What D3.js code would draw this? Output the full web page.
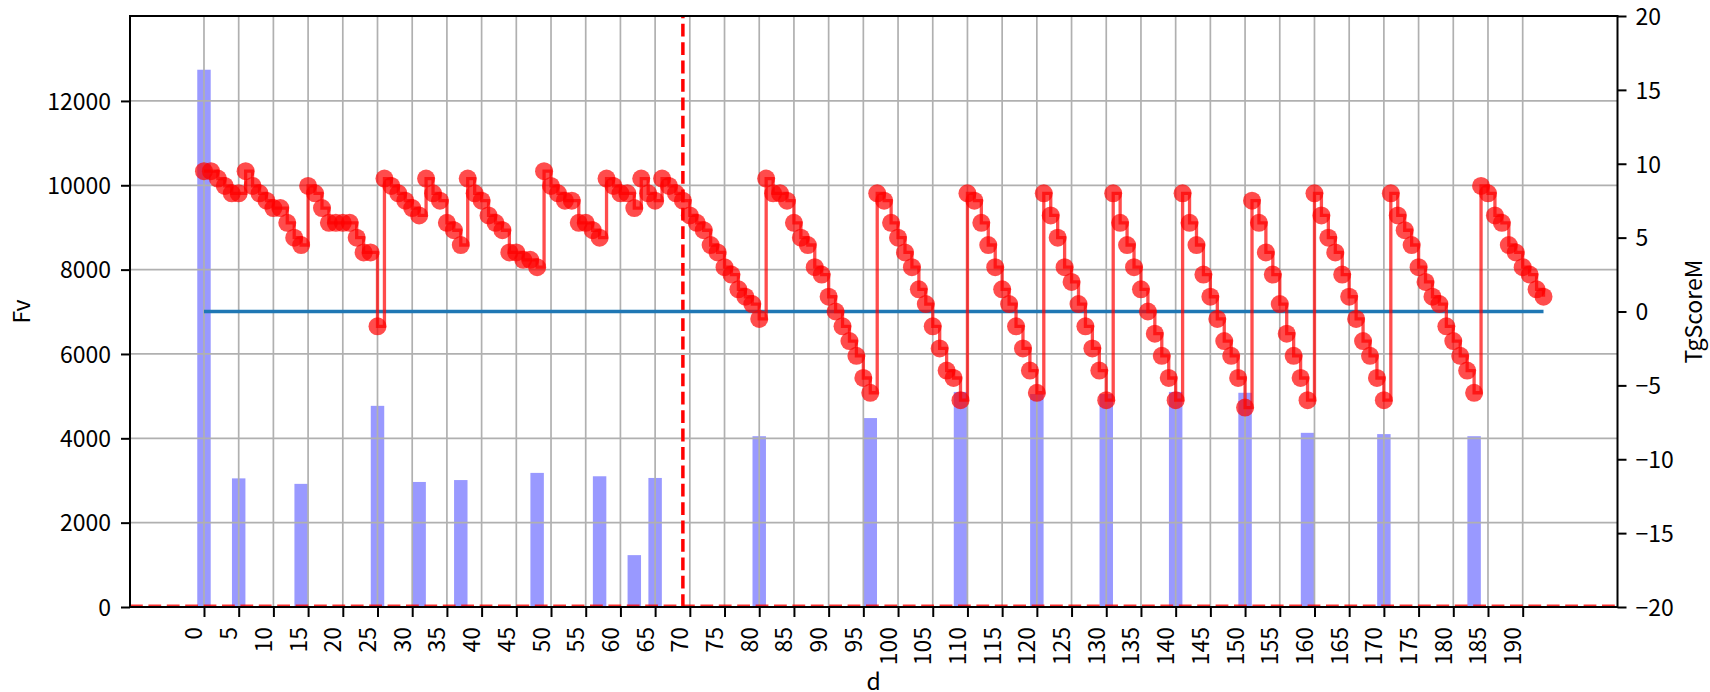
<!DOCTYPE html>
<html><head><meta charset="utf-8">
<script src="https://cdn.jsdelivr.net/npm/d3@7"></script>
<style>
body{margin:0;background:#fff}
svg{display:block}
text{font-family:"Noto Sans CJK JP","Noto Sans",sans-serif;fill:#000}
</style>
</head><body><svg id="c" width="1710" height="692"></svg>
<script>
// TgScoreM per day d (index = d)
const tgScoreM = [
 9.5,9.5,9,8.5,8,8,9.5,8.5,8,7.5,
 7,7,6,5,4.5,8.5,8,7,6,6,
 6,6,5,4,4,-1,9,8.5,8,7.5,
 7,6.5,9,8,7.5,6,5.5,4.5,9,8,
 7.5,6.5,6,5.5,4,4,3.5,3.5,3,9.5,
 8.5,8,7.5,7.5,6,6,5.5,5,9,8.5,
 8,8,7,9,8,7.5,9,8.5,8,7.5,
 6.5,6,5.5,4.5,4,3,2.5,1.5,1,0.5,
 -0.5,9,8,8,7.5,6,5,4.5,3,2.5,
 1,0,-1,-2,-3,-4.5,-5.5,8,7.5,6,
 5,4,3,1.5,0.5,-1,-2.5,-4,-4.5,-6,
 8,7.5,6,4.5,3,1.5,0.5,-1,-2.5,-4,
 -5.5,8,6.5,5,3,2,0.5,-1,-2.5,-4,
 -6,8,6,4.5,3,1.5,0,-1.5,-3,-4.5,
 -6,8,6,4.5,2.5,1,-0.5,-2,-3,-4.5,
 -6.5,7.5,6,4,2.5,0.5,-1.5,-3,-4.5,-6,
 8,6.5,5,4,2.5,1,-0.5,-2,-3,-4.5,
 -6,8,6.5,5.5,4.5,3,2,1,0.5,-1,
 -2,-3,-4,-5.5,8.5,8,6.5,6,4.5,4,
 3,2.5,1.5,1
];
// Fv bars
const barDays  = [0,5,14,25,31,37,48,57,62,65,80,96,109,120,130,140,150,159,170,183];
const fvValues = [12740,3050,2920,4770,2965,3010,3180,3100,1230,3060,4050,4480,5100,5050,5050,5100,5080,4130,4100,4050];
const thresholdDay = 69;
const baselineScore = 0;
const xTickValues = [0,5,10,15,20,25,30,35,40,45,50,55,60,65,70,75,80,85,90,95,100,105,110,115,120,125,130,135,140,145,150,155,160,165,170,175,180,185,190];
const leftTickValues = [0,2000,4000,6000,8000,10000,12000];
const rightTickValues = [-20,-15,-10,-5,0,5,10,15,20];

const L = 130, R = 1617.5, T = 16, B = 607;
const svg = d3.select("#c");
const days = tgScoreM.map((v,i)=>i);

const x = d3.scaleLinear().domain([-10.66, 203.66]).range([L, R]);
const yL = d3.scaleLinear().domain([0, 1.1*d3.max(fvValues)]).range([B, T]);
const yR = d3.scaleLinear().domain([-20, 20]).range([B, T]);

const FS = 23;
// bars
svg.append("g").selectAll("rect").data(barDays).join("rect")
  .attr("x", (d)=>x(d-0.97)).attr("width", x(1.94)-x(0))
  .attr("y", (d,i)=>yL(fvValues[i])).attr("height",(d,i)=>B-yL(fvValues[i]))
  .attr("fill","#0000ff").attr("fill-opacity",0.4);

// grid
const grid = svg.append("g").attr("stroke","#b0b0b0").attr("stroke-width",1.7);
grid.selectAll("line.v").data(xTickValues).join("line").attr("class","v")
  .attr("x1",d=>x(d)).attr("x2",d=>x(d)).attr("y1",T).attr("y2",B);
grid.selectAll("line.h").data(leftTickValues).join("line").attr("class","h")
  .attr("x1",L).attr("x2",R).attr("y1",d=>yL(d)).attr("y2",d=>yL(d));

// vertical threshold
svg.append("line").attr("x1",x(thresholdDay)).attr("x2",x(thresholdDay))
  .attr("y1",B).attr("y2",T).attr("stroke","#ff0000").attr("stroke-width",3.5)
  .attr("stroke-dasharray","12.8,5.6");
// bottom dashed
svg.append("line").attr("x1",L).attr("x2",R).attr("y1",yL(0)-1).attr("y2",yL(0)-1)
  .attr("stroke","#ff0000").attr("stroke-opacity",0.8).attr("stroke-width",3)
  .attr("stroke-dasharray","12.8,5.6");

// spines
svg.append("rect").attr("x",L).attr("y",T).attr("width",R-L).attr("height",B-T)
  .attr("fill","none").attr("stroke","#000").attr("stroke-width",2);

// axes
const axL = svg.append("g").attr("transform",`translate(${L},0)`)
  .call(d3.axisLeft(yL).tickValues(leftTickValues).tickFormat(d3.format("d")).tickSize(9).tickPadding(10));
const axR = svg.append("g").attr("transform",`translate(${R},0)`)
  .call(d3.axisRight(yR).tickValues(rightTickValues).tickSize(9).tickPadding(9));
const axB = svg.append("g").attr("transform",`translate(0,${B})`)
  .call(d3.axisBottom(x).tickValues(xTickValues).tickFormat(d3.format("d")).tickSize(10));
[axL,axR,axB].forEach(a=>{
  a.select(".domain").remove();
  a.selectAll("line").attr("stroke","#000").attr("stroke-width",2);
  a.selectAll("text").attr("font-size",FS).attr("font-family",'"Noto Sans CJK JP",sans-serif').attr("fill","#000");
});
axL.selectAll("text").attr("dy","0.36em");
axR.selectAll("text").attr("dy","0.36em");
axB.selectAll("text").attr("y",null).attr("dy",null).attr("x",null)
  .attr("text-anchor","end").attr("transform","translate(-2,20) rotate(-90)");

// axis titles
svg.append("text").attr("transform",`translate(30,${(T+B)/2}) rotate(-90)`)
  .attr("text-anchor","middle").attr("font-size",FS).text("Fv");
svg.append("text").attr("transform",`translate(1702,${(T+B)/2}) rotate(-90)`)
  .attr("text-anchor","middle").attr("font-size",FS).text("TgScoreM");
svg.append("text").attr("x",(L+R)/2).attr("y",690)
  .attr("text-anchor","middle").attr("font-size",FS).text("d");

// baseline (blue)
svg.append("line").attr("x1",x(days[0])).attr("x2",x(days[days.length-1]))
  .attr("y1",yR(baselineScore)).attr("y2",yR(baselineScore))
  .attr("stroke","#1f77b4").attr("stroke-width",3.3);

// TgScoreM steps
const line = d3.line().x((v,i)=>x(days[i])).y(v=>yR(v)).curve(d3.curveStepAfter);
svg.append("path").datum(tgScoreM).attr("d",line)
  .attr("fill","none").attr("stroke","#ff0000").attr("stroke-opacity",0.7).attr("stroke-width",3.3);
svg.append("g").selectAll("circle").data(tgScoreM).join("circle")
  .attr("cx",(v,i)=>x(days[i])).attr("cy",v=>yR(v)).attr("r",9)
  .attr("fill","#ff0000").attr("fill-opacity",0.7);
</script></body></html>
